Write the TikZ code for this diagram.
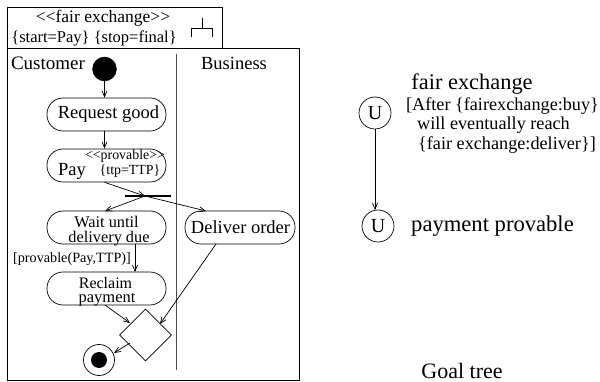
\documentclass[tikz,border=0pt]{standalone}
\usepackage{fontspec}
\setmainfont{Liberation Serif}
\usetikzlibrary{shapes.geometric,arrows.meta}
\newcommand{\fsz}[1]{\fontsize{#1}{#1}\selectfont}
\tikzset{
 x=1pt,y=-1pt,
 frame/.style={draw,line width=0.9pt},
 action/.style={draw,rectangle,rounded corners=16pt,line width=0.7pt,minimum width=119pt,minimum height=33pt,inner sep=0pt,anchor=center},
 lbl/.style={inner sep=0pt,anchor=center},
 flow/.style={draw,line width=0.7pt,-{Straight Barb[length=6pt,width=5pt]}},
 ucirc/.style={draw,circle,line width=0.7pt,minimum size=32pt,inner sep=0pt,font=\fsz{20}},
}
\begin{document}
\begin{tikzpicture}
\useasboundingbox (0,0) rectangle (600,382);
\node[frame,minimum width=215pt,minimum height=41pt,inner sep=0pt] (head) at (114.5,27.5) {};
\node[frame,minimum width=292pt,minimum height=332pt,inner sep=0pt] (main) at (153,214) {};
\coordinate (laneT) at (176,54); \coordinate (laneB) at (176,370);
\draw[line width=1pt,black!70] (laneT) -- (laneB);
\node[lbl,font=\fsz{17.5}] (t1) at (103,18) {{<}{<}fair exchange{>}{>}};
\node[lbl,font=\fsz{16.5}] (t2) at (94,38.5) {\{start=Pay\} \{stop=final\}};
\draw[line width=0.7pt] (191,37) -- (191,28) -- (212,28) -- (212,37) (202,28) -- (202,18);
\node[lbl,font=\fsz{19}] (cust) at (48,63) {Customer};
\node[lbl,font=\fsz{18.5}] (bus) at (234,63) {Business};
\node[draw,circle,fill=black,minimum size=24pt,inner sep=0pt] (start) at (104.5,69) {};
\node[action] (req) at (106.5,114.5) {};
\node[lbl,font=\fsz{18.5}] (reqt) at (108.5,114.5) {Request good};
\node[action] (pay) at (106.5,165.5) {};
\node[lbl,font=\fsz{18.5}] (payt) at (72,171) {Pay};
\node[lbl,font=\fsz{13.9}] (prov) at (125,156) {{<}{<}provable{>}{>}};
\node[lbl,font=\fsz{13.9}] (ttp) at (130,171) {\{ttp=TTP\}};
\coordinate (forkL) at (125,196); \coordinate (forkR) at (171,196); \coordinate (fork) at (145,196);
\draw[line width=1.1pt] (forkL) -- (forkR);
\node[action] (wait) at (106.5,227.5) {};
\node[lbl,font=\fsz{16.3}] (w1) at (106.5,222) {Wait until};
\node[lbl,font=\fsz{16.3}] (w2) at (109,238.5) {delivery due};
\node[action,minimum width=110pt] (del) at (240,227.5) {};
\node[lbl,font=\fsz{18.5}] (delt) at (240.5,227.5) {Deliver order};
\node[action] (rec) at (106.5,288.5) {};
\node[lbl,font=\fsz{16}] (r1) at (105.5,283.5) {Reclaim};
\node[lbl,font=\fsz{16.5}] (r2) at (107,300) {payment};
\node[lbl,font=\fsz{14.2}] (guard) at (72,259) {[provable(Pay,TTP)]};
\node[draw,diamond,aspect=1,line width=0.7pt,minimum size=52pt,inner sep=0pt] (dec) at (145.5,335) {};
\node[draw,circle,line width=0.7pt,minimum size=31pt,inner sep=0pt] (end) at (99,360) {};
\node[circle,fill=black,minimum size=16pt,inner sep=0pt] (endin) at (99,360) {};
\coordinate (waitOut) at (135,244); \coordinate (recIn) at (135,272);
\coordinate (waitIn) at (105,211); \coordinate (delIn) at (206,211);
\coordinate (recOut) at (105,305); \coordinate (decA) at (130,323);
\coordinate (delOut) at (216,244); \coordinate (decB) at (160,324);
\coordinate (decC) at (130,343); \coordinate (endIn) at (114,353);
\coordinate (u1Out) at (375,129); \coordinate (u2In) at (375,210);
\draw[flow] (start) -- (req.north -| start);
\draw[flow] (req.south -| start) -- (pay.north -| start);
\draw[flow] (pay.south -| start) -- (fork);
\draw[flow] (fork) -- (waitIn);
\draw[flow] (fork) -- (delIn);
\draw[flow] (waitOut) -- (recIn);
\draw[flow] (recOut) -- (decA);
\draw[flow] (delOut) -- (decB);
\draw[flow] (decC) -- (endIn);
\node[ucirc] (u1) at (375,113) {U};
\node[ucirc] (u2) at (378,226) {U};
\draw[flow] (u1Out) -- (u2In);
\node[lbl,font=\fsz{22.4}] (f1) at (472,84) {fair exchange};
\node[lbl,font=\fsz{18.2}] (f2) at (502.5,106) {[After \{fairexchange:buy\}};
\node[lbl,font=\fsz{18.2}] (f3) at (493.5,125) {will eventually reach};
\node[lbl,font=\fsz{18.2}] (f4) at (507,145) {\{fair exchange:deliver\}]};
\node[lbl,font=\fsz{22.6}] (pp) at (492.5,226) {payment provable};
\node[lbl,font=\fsz{22}] (gt) at (462,371) {Goal tree};
\end{tikzpicture}
\end{document}
